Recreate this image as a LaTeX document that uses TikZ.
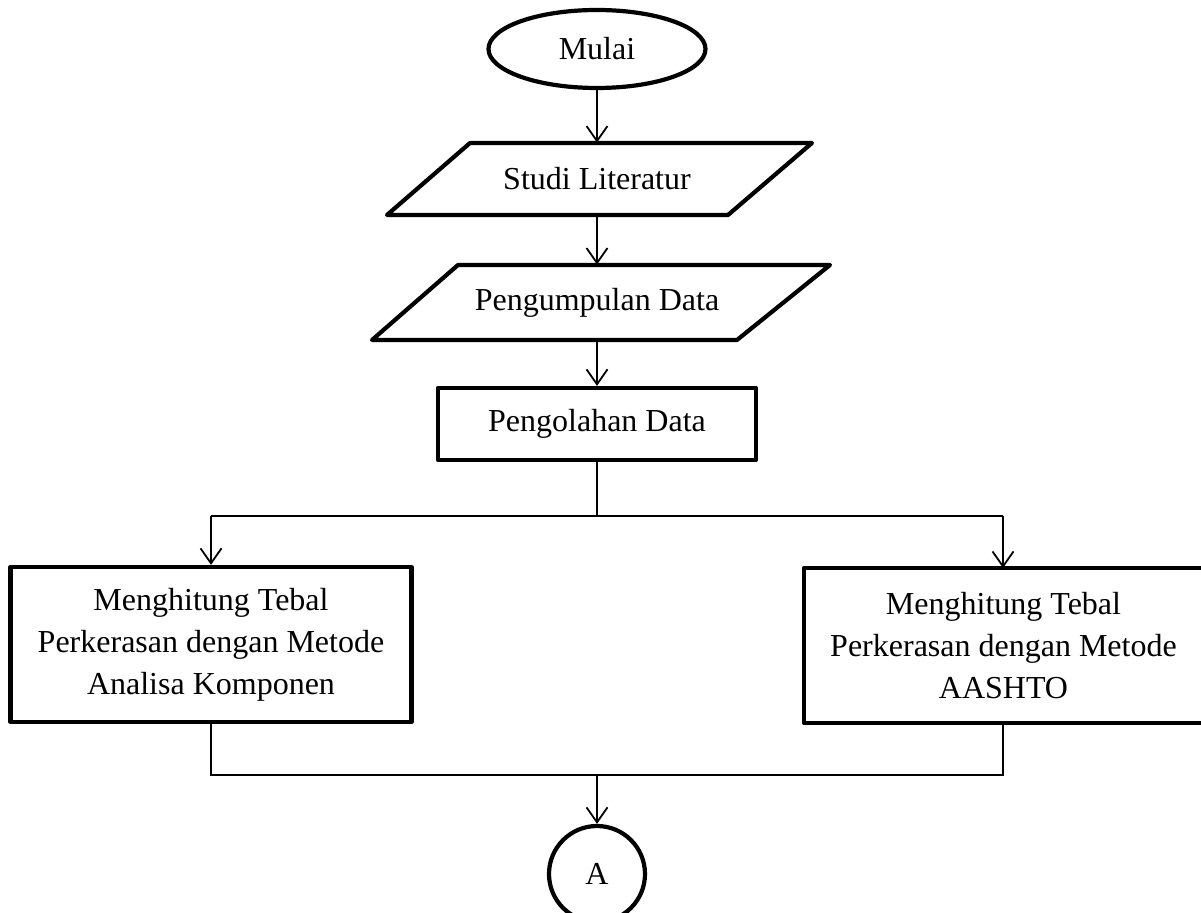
\documentclass[tikz,border=0pt]{standalone}
\usepackage{fontspec}
\setmainfont{Liberation Serif}
\usetikzlibrary{arrows.meta,shapes.geometric}
\begin{document}
\begin{tikzpicture}[x=0.5pt,y=-0.5pt,
  every node/.style={font=\fontsize{16pt}{21pt}\selectfont, inner sep=0pt},
  shapeline/.style={line width=2.1pt, line join=round},
  boxnode/.style={draw, shapeline, rectangle, align=center},
  txtnode/.style={rectangle, align=center},
  conn/.style={line width=0.9pt},
  arr/.style={conn, -{Straight Barb[length=7.5pt,width=10.5pt,line width=0.9pt]}}]
\useasboundingbox (0,0) rectangle (1201,913);

% nodes
\node[draw, shapeline, ellipse, minimum width=108.5pt, minimum height=39pt] (mulai) at (597,49) {Mulai};
\node[txtnode, minimum width=120pt, minimum height=36pt] (studi) at (597,179) {Studi Literatur};
\node[txtnode, minimum width=120pt, minimum height=37.5pt] (kumpul) at (597,302.5) {Pengumpulan Data};
\node[boxnode, minimum width=159pt, minimum height=36pt] (olah) at (597,424) {Pengolahan Data};
\node[boxnode, minimum width=200.5pt, minimum height=77.5pt] (kiri) at (211,644.5)
  {Menghitung Tebal\\Perkerasan dengan Metode\\Analisa Komponen};
\node[boxnode, minimum width=199.5pt, minimum height=77.5pt] (kanan) at (1003.5,645.5)
  {Menghitung Tebal\\Perkerasan dengan Metode\\AASHTO};
\node[draw, shapeline, circle, minimum size=48pt] (A) at (597,874) {A};

% parallelograms
\draw[shapeline] (470,143) -- (812,143) -- (728,215) -- (387,215) -- cycle;
\draw[shapeline] (458,265) -- (830,265) -- (737,340) -- (372,340) -- cycle;

% coordinates
\coordinate (split) at (597,516);
\coordinate (join) at (597,775);

% connectors
\draw[arr] (mulai.south) -- (studi.north);
\draw[arr] (studi.south) -- (kumpul.north);
\draw[arr] (kumpul.south) -- (olah.north);
\draw[conn] (olah.south) -- (split);
\draw[conn] (kiri.north |- split) -- (split) -- (split -| 1003,0);
\draw[arr] (kiri.north |- split) -- (kiri.north);
\draw[arr] (1003,516) -- (1003,568);
\draw[conn] (kiri.south) -- (kiri.south |- join) -- (1003,775) -- (1003,723);
\draw[arr] (join) -- (A.north);
\end{tikzpicture}
\end{document}
